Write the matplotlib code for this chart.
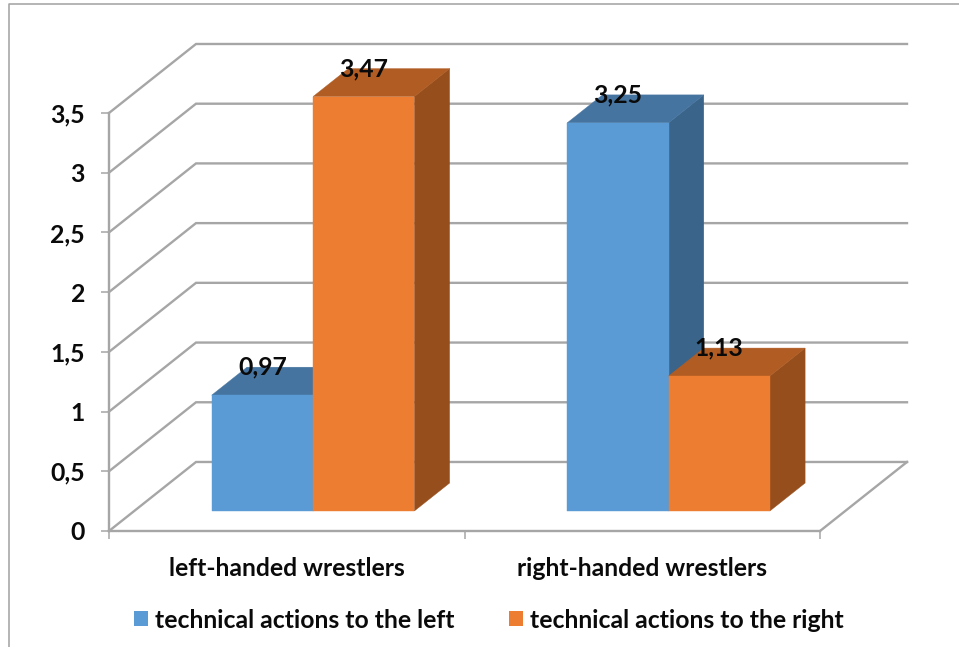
import matplotlib
matplotlib.use("Agg")
import matplotlib.pyplot as plt
from matplotlib.patches import Patch, Polygon

plt.rcParams["font.family"] = ["Lato", "DejaVu Sans"]

categories = ["left-handed wrestlers", "right-handed wrestlers"]
series_names = ["technical actions to the left", "technical actions to the right"]
left_actions = [0.97, 3.25]
right_actions = [3.47, 1.13]
y_ticks = [0, 0.5, 1, 1.5, 2, 2.5, 3, 3.5]
y_tick_labels = ["0", "0,5", "1", "1,5", "2", "2,5", "3", "3,5"]

GRID = "#A6A6A6"
TEXT = "#0A0A0A"
FONT_SIZE = 17.8
# front, top and side shades of each series
BLUE = ("#5B9BD5", "#4674A0", "#3A6489")
ORANGE = ("#ED7D31", "#B05C22", "#964E1C")

W, H = 959, 647
fig = plt.figure(figsize=(W / 100, H / 100), dpi=100, facecolor="white")
ax = fig.add_axes([109 / W, 1 - 531 / H, 711 / W, 418 / H], facecolor="none")
ax.set_xlim(0, 2)
ax.set_ylim(0, 3.5)

# oblique projection: one unit of depth moves a point this far in data units
DEPTH_X = 87 / 355.5
DEPTH_Y = 69 / 119.4


def project(x, y, depth):
    return (x + depth * DEPTH_X, y + depth * DEPTH_Y)


# outer frame of the chart area
fig.add_artist(plt.Line2D([8.5 / W, 8.5 / W, 1], [0, 1 - 3.9 / H, 1 - 3.9 / H],
                          color="#A0A0A0", lw=1.1))

# wall gridlines and floor outline
for tick in y_ticks:
    pts = [project(0, tick, 0), project(0, tick, 1), project(2, tick, 1)]
    ax.plot(*zip(*pts), color=GRID, lw=1.7, clip_on=False, zorder=1,
            solid_joinstyle="miter")
floor_edge = [project(2, 0, 0), project(2, 0, 1)]
ax.plot(*zip(*floor_edge), color=GRID, lw=1.7, clip_on=False, zorder=1)

# bars, back to front so that each covers its neighbour's side
BAR_W = 0.285
BAR_SHIFT = 0.003
DEPTH_FRONT = 0.29
DEPTH_BACK = 0.695


def draw_bar(x0, value, shades, z):
    x1 = x0 + BAR_W
    front = [project(x, y, DEPTH_FRONT) for x, y in
             [(x0, 0), (x1, 0), (x1, value), (x0, value)]]
    top = [project(x0, value, DEPTH_FRONT), project(x1, value, DEPTH_FRONT),
           project(x1, value, DEPTH_BACK), project(x0, value, DEPTH_BACK)]
    side = [project(x1, 0, DEPTH_FRONT), project(x1, 0, DEPTH_BACK),
            project(x1, value, DEPTH_BACK), project(x1, value, DEPTH_FRONT)]
    for pts, colour in ((side, shades[2]), (top, shades[1]), (front, shades[0])):
        ax.add_patch(Polygon(pts, closed=True, facecolor=colour, edgecolor=colour,
                             lw=0.3, clip_on=False, zorder=z))


for i in range(len(categories)):
    centre = i + 0.5 + BAR_SHIFT
    draw_bar(centre - BAR_W, left_actions[i], BLUE, 2 + i * 2)
    draw_bar(centre, right_actions[i], ORANGE, 3 + i * 2)

# value labels
for i in range(len(categories)):
    centre = i + 0.5 + BAR_SHIFT
    for x0, value in ((centre - BAR_W, left_actions[i]), (centre, right_actions[i])):
        anchor = project(x0 + BAR_W / 2, value, DEPTH_FRONT)
        ax.annotate(f"{value:.2f}".replace(".", ","), xy=anchor,
                    xytext=(0, 20), textcoords="offset points",
                    ha="center", va="center", fontsize=FONT_SIZE, fontweight="bold",
                    color=TEXT, zorder=10, annotation_clip=False)

# axes
for name in ("top", "right"):
    ax.spines[name].set_visible(False)
for name in ("left", "bottom"):
    ax.spines[name].set_color(GRID)
    ax.spines[name].set_linewidth(1.7)
    ax.spines[name].set_zorder(1)

ax.set_yticks(y_ticks, y_tick_labels)
ax.set_xticks([0, 1, 2], ["", "", ""])
ax.set_xticks([0.5, 1.5], categories, minor=True)
ax.tick_params(axis="y", length=5.8, width=1.1, color=GRID, pad=11.5,
               labelsize=FONT_SIZE, labelcolor=TEXT)
ax.tick_params(axis="x", which="major", length=5.8, width=1.1, color=GRID)
ax.tick_params(axis="x", which="minor", length=0, pad=19,
               labelsize=FONT_SIZE, labelcolor=TEXT)
for lab in ax.get_yticklabels() + ax.get_xticklabels(minor=True):
    lab.set_fontweight("bold")

handles = [Patch(facecolor=BLUE[0]), Patch(facecolor=ORANGE[0])]
fig.legend(handles, series_names, ncol=2, loc="center", frameon=False,
           bbox_to_anchor=(489 / W, 1 - 620 / H), handlelength=0.57,
           handleheight=0.57, handletextpad=0.28, columnspacing=2.2,
           prop={"size": FONT_SIZE, "weight": "bold"}, labelcolor=TEXT)

fig.savefig("out.png", dpi=100)
